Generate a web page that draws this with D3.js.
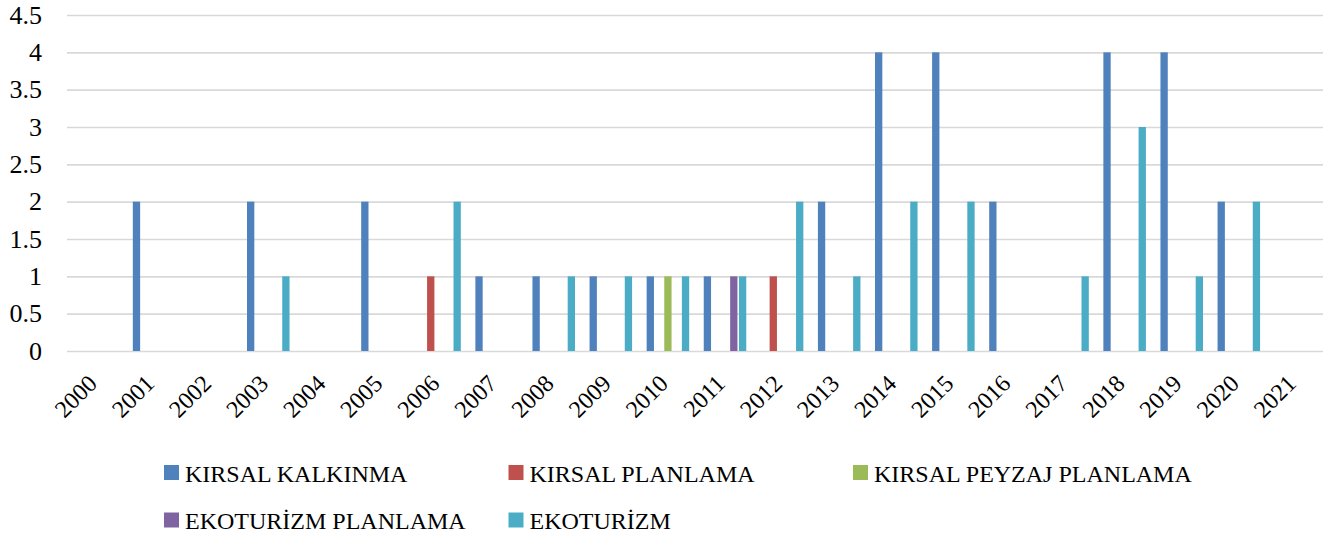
<!DOCTYPE html>
<meta charset="utf-8">
<title>Kırsal ve ekoturizm çalışmaları</title>
<style>
body { margin: 0; background: #fff; }
text { font-family: "Liberation Serif", "Times New Roman", serif; fill: #000; }
.grid line { stroke: #d9d9d9; stroke-width: 1.6; }
</style>
<body>
<div id="chart"></div>
<script src="https://d3js.org/d3.v7.min.js"></script>
<script>

// categories
var years = ["2000","2001","2002","2003","2004","2005","2006","2007","2008","2009","2010",
             "2011","2012","2013","2014","2015","2016","2017","2018","2019","2020","2021"];

// series names and colours
var seriesNames = ["KIRSAL KALKINMA", "KIRSAL PLANLAMA", "KIRSAL PEYZAJ PLANLAMA",
                   "EKOTURİZM PLANLAMA", "EKOTURİZM"];
var seriesColors = ["#4f81bd", "#c0504d", "#9bbb59", "#8064a2", "#4bacc6"];

// values per year (0 = no bar)
var kirsalKalkinma  = [0,2,0,2,0,2,0,1,1,1,1,1,0,2,4,4,2,0,4,4,2,0];
var kirsalPlanlama  = [0,0,0,0,0,0,1,0,0,0,0,0,1,0,0,0,0,0,0,0,0,0];
var kirsalPeyzaj    = [0,0,0,0,0,0,0,0,0,0,1,0,0,0,0,0,0,0,0,0,0,0];
var ekoturizmPlan   = [0,0,0,0,0,0,0,0,0,0,0,1,0,0,0,0,0,0,0,0,0,0];
var ekoturizm       = [0,0,0,1,0,0,2,0,1,1,1,1,2,1,2,2,0,1,3,1,2,0];

// y axis ticks
var yTicks = [0, 0.5, 1, 1.5, 2, 2.5, 3, 3.5, 4, 4.5];

var allValues = [kirsalKalkinma, kirsalPlanlama, kirsalPeyzaj, ekoturizmPlan, ekoturizm];

// dimensions
var width = 1325, height = 535;
var plot = {left: 67, right: 1323, top: 15, bottom: 351};

var svg = d3.select("#chart").append("svg")
    .attr("width", width)
    .attr("height", height);

var x = d3.scaleBand()
    .domain(years)
    .range([plot.left, plot.right])
    .padding(0);

var bw = x.bandwidth();
var xs = d3.scaleBand()
    .domain(seriesNames)
    .range([bw * 0.153, bw * 0.898])
    .paddingInner(0.17)
    .paddingOuter(0);

var y = d3.scaleLinear()
    .domain([0, 4.5])
    .range([plot.bottom, plot.top]);

var color = d3.scaleOrdinal().domain(seriesNames).range(seriesColors);

// gridlines + y labels
var yAxis = svg.append("g")
    .attr("class", "grid")
    .attr("transform", "translate(" + plot.left + ",0)")
    .call(d3.axisLeft(y)
        .tickValues(yTicks)
        .tickFormat(function(d) { return d; })
        .tickSizeInner(-(plot.right - plot.left))
        .tickSizeOuter(0)
        .tickPadding(25));
yAxis.select(".domain").remove();
yAxis.selectAll("text")
    .style("font-family", "Liberation Serif, serif")
    .style("font-size", "26px")
    .attr("fill", "#000");

// flatten data
var bars = [];
years.forEach(function(yr, i) {
    seriesNames.forEach(function(s, j) {
        var v = allValues[j][i];
        if (v > 0) bars.push({year: yr, series: s, value: v});
    });
});

svg.append("g").selectAll("rect")
    .data(bars)
    .enter().append("rect")
    .attr("x", function(d) { return x(d.year) + xs(d.series); })
    .attr("y", function(d) { return y(d.value); })
    .attr("width", xs.bandwidth())
    .attr("height", function(d) { return y(0) - y(d.value); })
    .attr("fill", function(d) { return color(d.series); });

// x labels, rotated
svg.append("g").selectAll("text")
    .data(years)
    .enter().append("text")
    .attr("transform", function(d) {
        return "translate(" + (x(d) + bw / 2 + 3) + "," + (plot.bottom + 34) + ") rotate(-45)";
    })
    .attr("text-anchor", "end")
    .style("font-size", "24px")
    .text(function(d) { return d; });

// legend
var legend = svg.append("g").selectAll("g")
    .data(seriesNames)
    .enter().append("g")
    .attr("transform", function(d, i) {
        return "translate(" + (164 + (i % 3) * 344.5) + "," + (465 + Math.floor(i / 3) * 47.5) + ")";
    });

legend.append("rect")
    .attr("width", 15)
    .attr("height", 15)
    .attr("fill", function(d) { return color(d); });

legend.append("text")
    .attr("x", 21)
    .attr("y", 16.5)
    .style("font-size", "24px")
    .text(function(d) { return d; });

</script>
</body>
